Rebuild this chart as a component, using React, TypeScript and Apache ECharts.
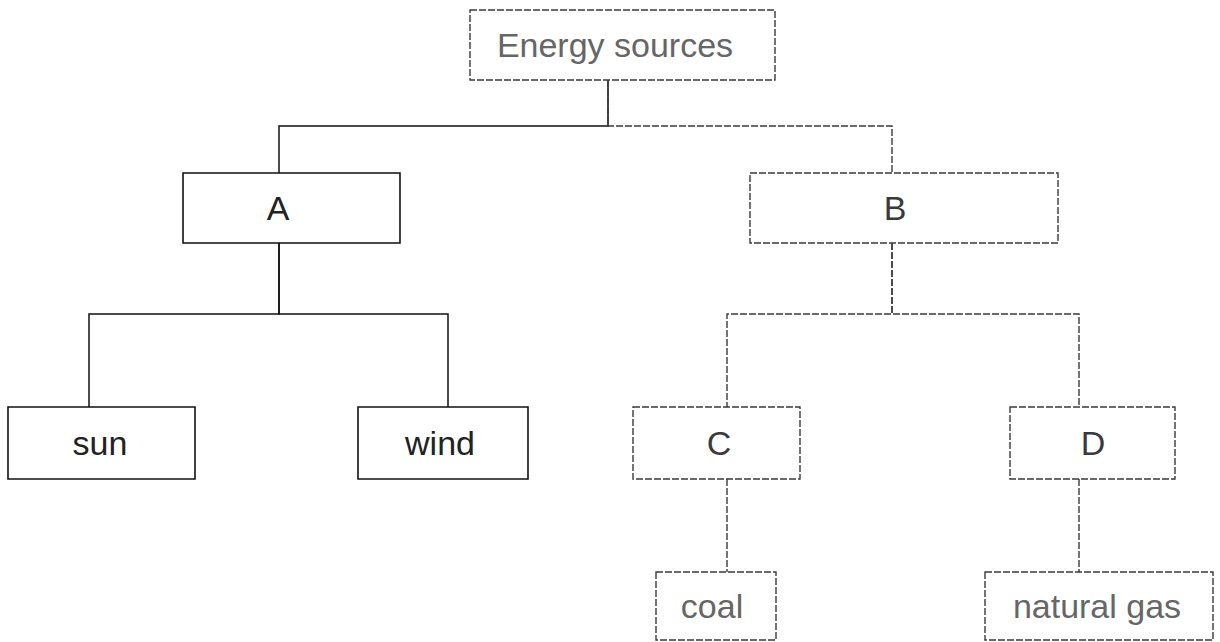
import React, { useEffect, useRef } from "react";
import * as echarts from "echarts";

// Tree nodes (diagram coordinate space: 0..1220 across, 0..642 down)
const NODE_NAMES = ["Energy sources", "A", "B", "sun", "wind", "C", "D", "coal", "natural gas"];
const NODE_PARENT = [-1, 0, 0, 1, 1, 2, 2, 5, 6];
const BOX_LEFT = [470, 183, 750, 8, 358, 633, 1010, 656, 985];
const BOX_RIGHT = [775, 400, 1058, 195, 528, 800, 1175, 776, 1213];
const BOX_TOP = [10, 173, 173, 407, 407, 407, 407, 572, 572];
const BOX_BOTTOM = [80, 243, 243, 479, 479, 479, 479, 640, 640];
const STEM_X = [608, 279, 892, 89, 448, 727, 1079, 727, 1079];
const LABEL_X = [615, 278, 895, 100, 440, 719, 1093, 712, 1097];
const BUS_Y = [126, 314, 314, 0, 0, 525, 525, 0, 0];

const FAINT = ["Energy sources", "B", "C", "D", "coal", "natural gas"];
const LIGHT_TEXT = ["Energy sources", "coal", "natural gas"];

export default function App() {
  const ref = useRef<HTMLDivElement>(null);
  useEffect(() => {
    document.body.style.margin = "0";
    if (!ref.current) return;
    const chart = echarts.init(ref.current, null, { renderer: "svg" });

    const boxData = NODE_NAMES.map((n, i) => [BOX_LEFT[i], BOX_TOP[i], BOX_RIGHT[i], BOX_BOTTOM[i], LABEL_X[i], i]);

    const edgeData = NODE_NAMES.map((n, i) => {
      const p = NODE_PARENT[i];
      if (p < 0) return null;
      const faint = FAINT.includes(n);
      return {
        coords: [
          [STEM_X[p], BOX_BOTTOM[p]],
          [STEM_X[p], BUS_Y[p]],
          [STEM_X[i], BUS_Y[p]],
          [STEM_X[i], BOX_TOP[i]],
        ],
        lineStyle: faint
          ? { color: "#3a3a3a", width: 1.4, type: [7, 2] as any }
          : { color: "#111", width: 1.5, type: "solid" as any },
      };
    }).filter(Boolean);

    chart.setOption({
      animation: false,
      backgroundColor: "#ffffff",
      grid: { left: 0, right: 0, top: 0, bottom: 0 },
      xAxis: { type: "value", min: 0, max: 1220, show: false },
      yAxis: { type: "value", min: 0, max: 642, inverse: true, show: false },
      series: [
        {
          type: "lines",
          coordinateSystem: "cartesian2d",
          polyline: true,
          silent: true,
          data: edgeData,
          lineStyle: { color: "#111", width: 1.5, opacity: 1 },
          z: 1,
        },
        {
          type: "custom",
          coordinateSystem: "cartesian2d",
          silent: true,
          data: boxData,
          encode: { x: [0, 2], y: [1, 3] },
          renderItem: (params: any, api: any) => {
            const i = api.value(5);
            const name = NODE_NAMES[i];
            const p1 = api.coord([api.value(0), api.value(1)]);
            const p2 = api.coord([api.value(2), api.value(3)]);
            const lx = api.coord([api.value(4), 0])[0];
            const faint = FAINT.includes(name);
            const textColor = LIGHT_TEXT.includes(name) ? "#666" : faint ? "#3a3a3a" : "#222";
            return {
              type: "group",
              children: [
                {
                  type: "rect",
                  shape: { x: p1[0], y: p1[1], width: p2[0] - p1[0], height: p2[1] - p1[1] },
                  style: {
                    fill: "#fff",
                    stroke: faint ? "#3a3a3a" : "#111",
                    lineWidth: faint ? 1.4 : 1.6,
                    lineDash: faint ? [7, 2] : null,
                  },
                },
                {
                  type: "text",
                  style: {
                    text: name,
                    x: lx,
                    y: (p1[1] + p2[1]) / 2,
                    align: "center",
                    verticalAlign: "middle",
                    font: '34px "Liberation Sans", Arial, sans-serif',
                    fill: textColor,
                  },
                },
              ],
            };
          },
          z: 2,
        },
      ],
    });
    return () => chart.dispose();
  }, []);
  return <div ref={ref} style={{ width: 1220, height: 642 }} />;
}
